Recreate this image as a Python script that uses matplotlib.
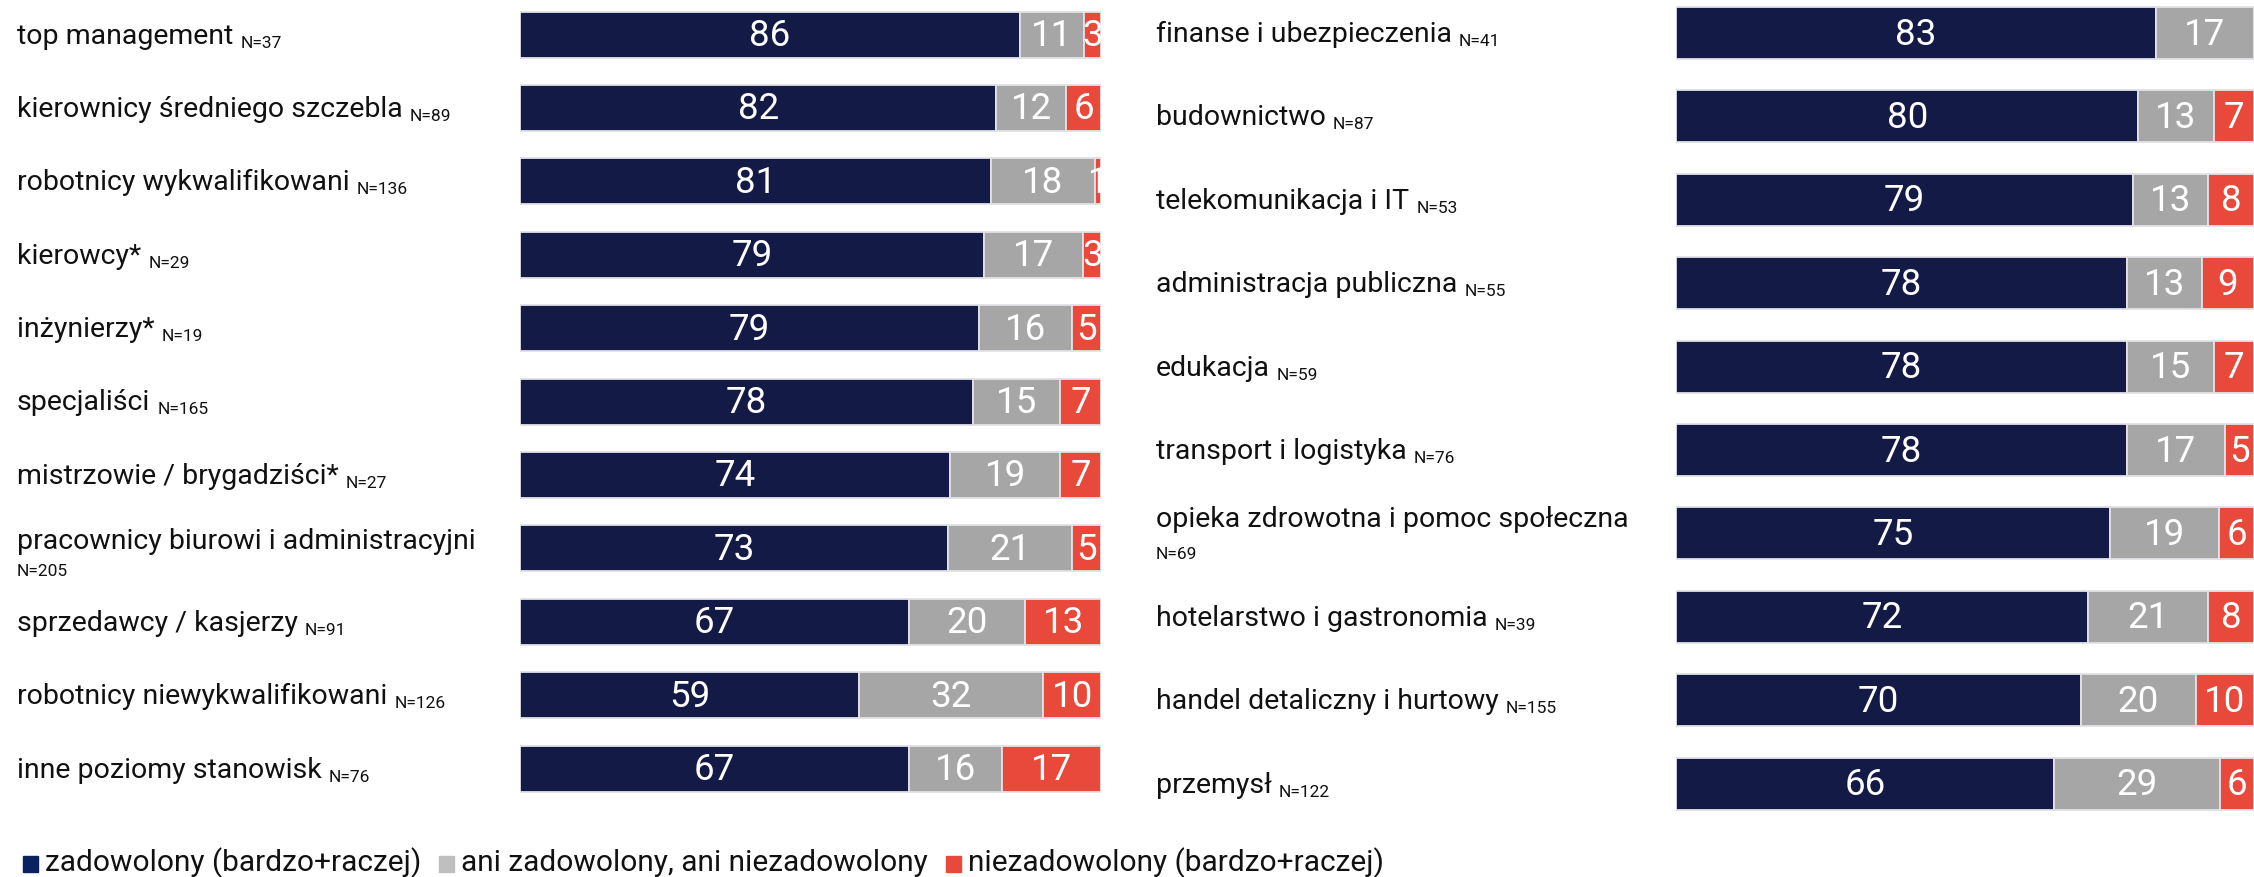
import matplotlib.pyplot as plt
import numpy as np

# left panel: stanowiska
left_labels = ["top management", "kierownicy średniego szczebla", "robotnicy wykwalifikowani",
               "kierowcy*", "inżynierzy*", "specjaliści", "mistrzowie / brygadziści*",
               "pracownicy biurowi i administracyjni", "sprzedawcy / kasjerzy",
               "robotnicy niewykwalifikowani", "inne poziomy stanowisk"]
left_n = ["N=37", "N=89", "N=136", "N=29", "N=19", "N=165", "N=27", "N=205", "N=91", "N=126", "N=76"]
left_sat = [86, 82, 81, 79, 79, 78, 74, 73, 67, 59, 67]
left_neu = [11, 12, 18, 17, 16, 15, 19, 21, 20, 32, 16]
left_dis = [3, 6, 1, 3, 5, 7, 7, 5, 13, 10, 17]
left_wrap = [7]

# right panel: branze
right_labels = ["finanse i ubezpieczenia", "budownictwo", "telekomunikacja i IT",
                "administracja publiczna", "edukacja", "transport i logistyka",
                "opieka zdrowotna i pomoc społeczna", "hotelarstwo i gastronomia",
                "handel detaliczny i hurtowy", "przemysł"]
right_n = ["N=41", "N=87", "N=53", "N=55", "N=59", "N=76", "N=69", "N=39", "N=155", "N=122"]
right_sat = [83, 80, 79, 78, 78, 78, 75, 72, 70, 66]
right_neu = [17, 13, 13, 13, 15, 17, 19, 21, 20, 29]
right_dis = [0, 7, 8, 9, 7, 5, 6, 8, 10, 6]
right_wrap = [6]

legend_labels = ["zadowolony (bardzo+raczej)", "ani zadowolony, ani niezadowolony",
                 "niezadowolony (bardzo+raczej)"]

bar_colors = ["#131a46", "#a6a6a6", "#e8493a"]
legend_colors = ["#0a2260", "#bfbfbf", "#e8493a"]

FONT = "Roboto"
W, H = 2254, 877
fig = plt.figure(figsize=(W / 100, H / 100), dpi=100)
renderer = fig.canvas.get_renderer()


def px_text(x, y, s, **kw):
    # x, y in pixels from top-left
    return fig.text(x / W, 1 - y / H, s, family=FONT, va="baseline", **kw)


def panel(x0, x1, c0, step, bh, labels, ns, sat, neu, dis, label_x, wrap, wrap_off):
    ax = fig.add_axes([x0 / W, 0, (x1 - x0) / W, 1])
    ax.set_xlim(0, 100)
    ax.set_ylim((H - c0) / step, -c0 / step)
    ax.axis("off")
    vals = np.array([sat, neu, dis], dtype=float).T
    widths = vals / vals.sum(axis=1, keepdims=True) * 100
    y = np.arange(len(labels))
    left = np.zeros(len(labels))
    for k in range(3):
        w = widths[:, k]
        ax.barh(y, w, left=left, height=bh / step, color=bar_colors[k],
                edgecolor="#e2e2e6", linewidth=1.3)
        for i in range(len(labels)):
            if vals[i, k] > 0:
                ax.text(left[i] + w[i] / 2, y[i] + 0.02, "%d" % vals[i, k], ha="center",
                        va="center", color="white", fontsize=26.5, family=FONT,
                        clip_on=True)
        left = left + w

    for i, (lab, n) in enumerate(zip(labels, ns)):
        c = c0 + i * step
        if i in wrap:
            px_text(label_x, c + wrap_off[0], lab, fontsize=20.5, color="#111111")
            px_text(label_x, c + wrap_off[1], n, fontsize=12.5, color="#111111")
        else:
            t = px_text(label_x, c + 9, lab, fontsize=20.5, color="#111111")
            ext = t.get_window_extent(renderer)
            px_text(ext.x1 + 7, c + 13, n, fontsize=12.5, color="#111111")


panel(520, 1101, 34.5, 73.4, 46, left_labels, left_n, left_sat, left_neu, left_dis,
      17, left_wrap, (1, 28))
panel(1676, 2254, 33, 83.4, 52, right_labels, right_n, right_sat, right_neu, right_dis,
      1156, right_wrap, (-6, 26))

# legend
x = 23
for lab, col in zip(legend_labels, legend_colors):
    fig.patches.append(plt.Rectangle((x / W, 1 - 872 / H), 15 / W, 16 / H,
                                     transform=fig.transFigure, color=col))
    t = px_text(x + 22, 871, lab, fontsize=21.5, color="#111111")
    x = t.get_window_extent(renderer).x1 + 18

fig.savefig("out.png", dpi=100)
